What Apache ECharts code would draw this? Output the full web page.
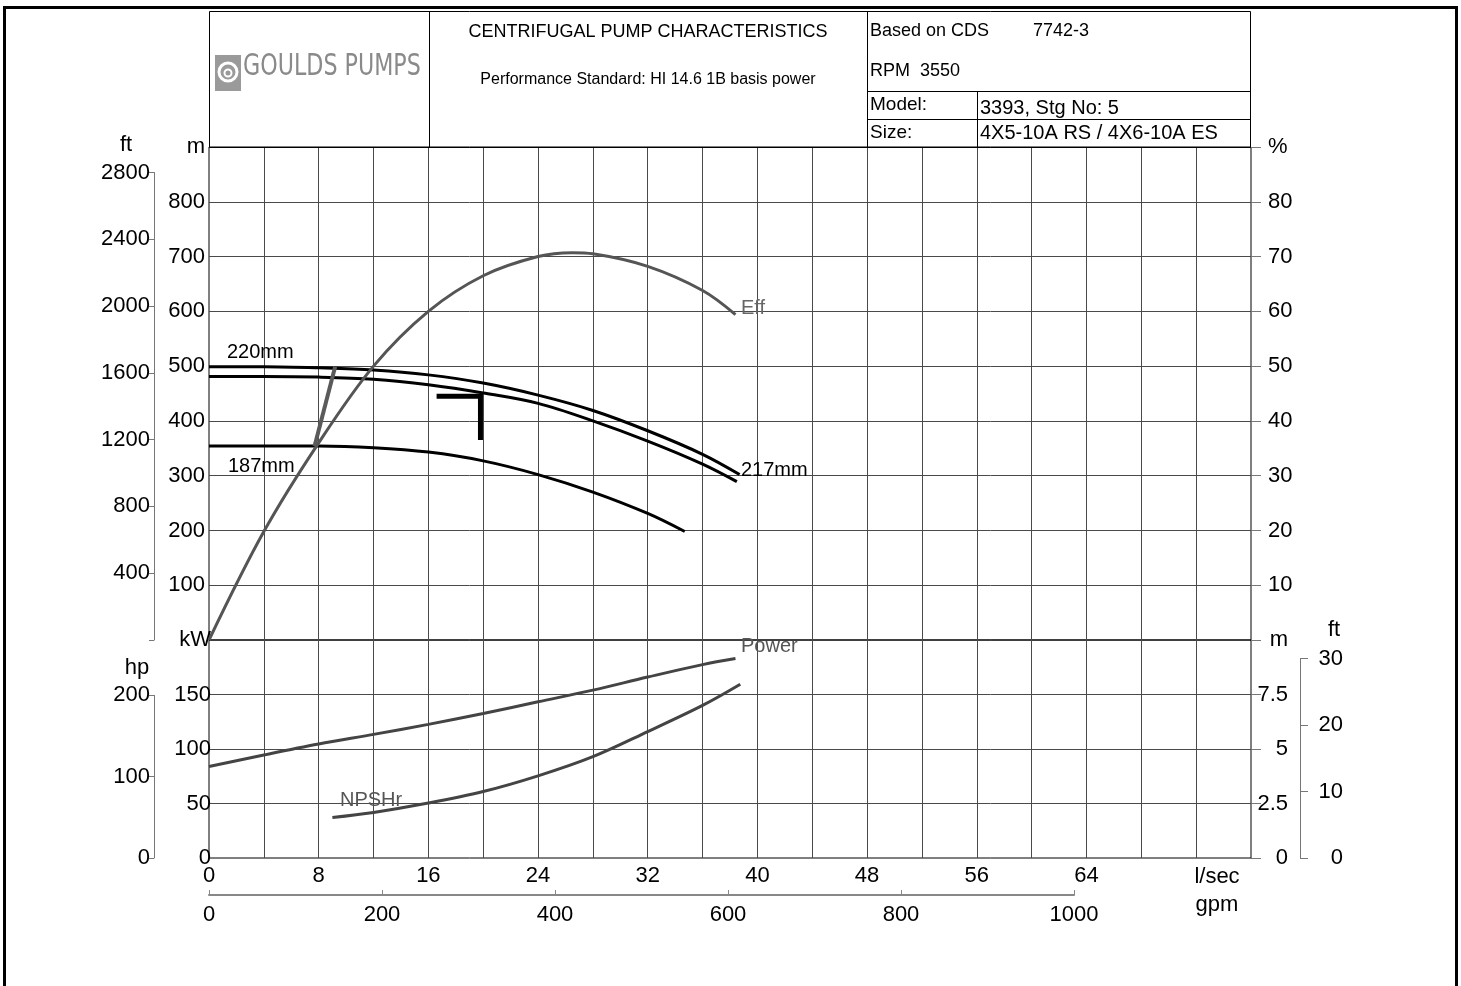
<!DOCTYPE html>
<html>
<head>
<meta charset="utf-8">
<title>Centrifugal pump characteristics</title>
<script src="https://cdn.jsdelivr.net/npm/echarts@6/dist/echarts.min.js"></script>
<style>
  html, body { margin: 0; padding: 0; background: #fff; }
  #chart { width: 1461px; height: 986px; }
</style>
</head>
<body>
<div id="chart"></div>
<script>
// flow in l/sec, head in m
var head220 = [[0, 499], [4, 499], [8, 497], [12, 493], [16, 484], [20, 469], [24, 447], [28, 419], [32, 382], [36, 339], [38.7, 302]];
var head217 = [[0, 481], [4, 481], [8, 480], [12, 476], [16, 466], [20, 451], [24, 432], [28, 400], [32, 363], [36, 321], [38.5, 289]];
var head187 = [[0, 354], [4, 354], [8, 354], [12, 351], [16, 343], [20, 327], [24, 302], [28, 270], [32, 231], [34.7, 198]];
// efficiency %
var effPct = [[0, 0], [4, 19.8], [8, 36], [12, 50], [16, 60], [20, 66.5], [24, 70], [26.5, 70.7], [28, 70.5], [32, 68.2], [36, 63.8], [38.4, 59.4]];
// power kW
var powerKw = [[0, 84], [4, 94.5], [8, 104.5], [12, 113.4], [16, 122.6], [20, 132.6], [24, 143.3], [28, 154], [32, 166], [36, 177.4], [38.4, 183]];
// NPSHr m
var npshM = [[9, 1.86], [12, 2.09], [16, 2.52], [20, 3.05], [24, 3.77], [28, 4.65], [32, 5.8], [36, 7.0], [38.75, 7.97]];
// min flow line and duty point marker
var minFlow = [[7.7, 353.5], [9.2, 499]];
var dutyMark = [[16.6, 445], [19.8, 445], [19.8, 365]];

var FONT = 'Liberation Sans, Arial, sans-serif';
var M_TO_FT = 3.28084;
var LS_TO_GPM = 15.8503;
var KW_TO_HP = 1.34102;

var chart = echarts.init(document.getElementById('chart'));

var gridCol = '#4a4a4a';
var axisGray = '#777';

function lbl(extra) {
  var o = { color: '#000', fontFamily: FONT, fontSize: 22 };
  for (var k in extra) o[k] = extra[k];
  return o;
}
function txt(x, y, s, size, opt) {
  opt = opt || {};
  return {
    type: 'text', x: x, y: y, z: 100,
    style: {
      text: s, fill: opt.color || '#000', font: (size || 20) + 'px ' + FONT,
      textAlign: opt.align || 'left', textVerticalAlign: 'middle'
    }
  };
}
function ln(x1, y1, x2, y2, w, c) {
  return { type: 'line', z: 100, shape: { x1: x1, y1: y1, x2: x2, y2: y2 }, style: { stroke: c || '#000', lineWidth: w || 1 } };
}

// head / eff grid: 0..900 m over 147..640
var plotTop = 147, splitY = 640, plotBottom = 858, plotLeft = 209, plotW = 1042;
var ftTop = splitY - (2800 / M_TO_FT) / 900 * (splitY - plotTop);
var hpTop = plotBottom - (200 / KW_TO_HP) / 200 * (plotBottom - splitY);
var npftTop = plotBottom - (30 / M_TO_FT) / 10 * (plotBottom - splitY);
var qMax = 76;
var gpmW = 1000 / (qMax * LS_TO_GPM) * plotW;

var option = {
  animation: false,
  backgroundColor: '#fff',
  grid: [
    { left: plotLeft, top: plotTop, width: plotW, height: splitY - plotTop, show: true, borderColor: '#000', borderWidth: 1 },
    { left: plotLeft, top: splitY, width: plotW, height: plotBottom - splitY, show: true, borderColor: '#000', borderWidth: 1 },
    { left: 154, top: ftTop, width: 1, height: splitY - ftTop },
    { left: 154, top: hpTop, width: 1, height: plotBottom - hpTop },
    { left: 1300, top: npftTop, width: 5, height: plotBottom - npftTop },
    { left: plotLeft, top: 890, width: gpmW, height: 5 }
  ],
  xAxis: [
    { gridIndex: 0, type: 'value', min: 0, max: qMax, interval: 4,
      axisLine: { show: false }, axisTick: { show: false }, axisLabel: { show: false },
      splitLine: { show: true, showMinLine: false, showMaxLine: false, lineStyle: { color: gridCol, width: 1 } } },
    { gridIndex: 1, type: 'value', min: 0, max: qMax, interval: 4,
      axisLine: { show: false }, axisTick: { show: false },
      axisLabel: lbl({ margin: 7, formatter: function (v) { return (v % 8 === 0 && v <= 64) ? String(v) : ''; } }),
      splitLine: { show: true, showMinLine: false, showMaxLine: false, lineStyle: { color: gridCol, width: 1 } } },
    { gridIndex: 2, type: 'value', min: 0, max: 1, show: false },
    { gridIndex: 3, type: 'value', min: 0, max: 1, show: false },
    { gridIndex: 4, type: 'value', min: 0, max: 1, show: false },
    { gridIndex: 5, type: 'value', position: 'bottom', min: 0, max: 1000, interval: 200,
      axisLine: { show: true, lineStyle: { color: '#888', width: 2 } },
      axisTick: { show: true, inside: true, length: 5, lineStyle: { color: '#888' } },
      axisLabel: lbl({ margin: 9, formatter: function (v) { return String(v); } }), splitLine: { show: false } }
  ],
  yAxis: [
    { gridIndex: 0, type: 'value', position: 'left', min: 0, max: 900, interval: 100,
      axisLine: { show: false }, axisTick: { show: false },
      axisLabel: lbl({ margin: 4, formatter: function (v) { return v === 0 ? '' : (v === 900 ? 'm' : String(v)); } }),
      splitLine: { show: true, showMinLine: false, showMaxLine: false, lineStyle: { color: gridCol, width: 1 } } },
    { gridIndex: 0, type: 'value', position: 'right', min: 0, max: 90, interval: 10,
      axisLine: { show: false }, axisTick: { show: true, length: 10, lineStyle: { color: axisGray } },
      axisLabel: lbl({ margin: 17, formatter: function (v) { return v === 0 ? '' : (v === 90 ? '%' : String(v)); } }),
      splitLine: { show: false } },
    { gridIndex: 1, type: 'value', position: 'left', min: 0, max: 200, interval: 50,
      axisLine: { show: false }, axisTick: { show: false },
      axisLabel: lbl({ margin: -2, formatter: function (v) { return v === 200 ? 'kW' : String(v); } }),
      splitLine: { show: true, showMinLine: false, showMaxLine: false, lineStyle: { color: gridCol, width: 1 } } },
    { gridIndex: 1, type: 'value', position: 'right', min: 0, max: 10, interval: 2.5,
      axisLine: { show: false }, axisTick: { show: true, length: 10, lineStyle: { color: axisGray } },
      axisLabel: lbl({ margin: 37, align: 'right', formatter: function (v) { return v === 10 ? 'm' : String(v); } }),
      splitLine: { show: false } },
    { gridIndex: 2, type: 'value', position: 'left', min: 0, max: 2800, interval: 400,
      axisLine: { show: true, lineStyle: { color: axisGray } },
      axisTick: { show: true, length: 5, lineStyle: { color: axisGray } },
      axisLabel: lbl({ margin: 4, formatter: function (v) { return v === 0 ? '' : String(v); } }),
      splitLine: { show: false } },
    { gridIndex: 3, type: 'value', position: 'left', min: 0, max: 200, interval: 100,
      axisLine: { show: true, lineStyle: { color: axisGray } },
      axisTick: { show: true, length: 5, lineStyle: { color: axisGray } },
      axisLabel: lbl({ margin: 4 }), splitLine: { show: false } },
    { gridIndex: 4, type: 'value', position: 'right', min: 0, max: 30, interval: 10,
      axisLine: { show: true, lineStyle: { color: axisGray } },
      axisTick: { show: true, length: 8, lineStyle: { color: axisGray } },
      axisLabel: lbl({ margin: 38, align: 'right' }), splitLine: { show: false } },
    { gridIndex: 5, type: 'value', min: 0, max: 1, show: false }
  ],
  series: [
    { name: '220mm', type: 'line', xAxisIndex: 0, yAxisIndex: 0, data: head220, smooth: 0.35, showSymbol: false,
      lineStyle: { color: '#000', width: 3 } },
    { name: '217mm', type: 'line', xAxisIndex: 0, yAxisIndex: 0, data: head217, smooth: 0.35, showSymbol: false,
      lineStyle: { color: '#000', width: 3 } },
    { name: '187mm', type: 'line', xAxisIndex: 0, yAxisIndex: 0, data: head187, smooth: 0.35, showSymbol: false,
      lineStyle: { color: '#000', width: 3 } },
    { name: 'Eff', type: 'line', xAxisIndex: 0, yAxisIndex: 1, data: effPct, smooth: 0.35, showSymbol: false,
      lineStyle: { color: '#555', width: 3 } },
    { name: 'Min flow', type: 'line', xAxisIndex: 0, yAxisIndex: 0, data: minFlow, showSymbol: false,
      lineStyle: { color: '#5a5a5a', width: 4 } },
    { name: 'Duty', type: 'line', xAxisIndex: 0, yAxisIndex: 0, data: dutyMark, showSymbol: false,
      lineStyle: { color: '#000', width: 5, join: 'miter', cap: 'butt' } },
    { name: 'Power', type: 'line', xAxisIndex: 1, yAxisIndex: 2, data: powerKw, smooth: 0.35, showSymbol: false,
      lineStyle: { color: '#444', width: 3 } },
    { name: 'NPSHr', type: 'line', xAxisIndex: 1, yAxisIndex: 3, data: npshM, smooth: 0.35, showSymbol: false,
      lineStyle: { color: '#444', width: 3 } }
  ],
  graphic: [
    // outer frame
    { type: 'rect', z: 100, shape: { x: 4.5, y: 7.5, width: 1452, height: 1000 }, style: { fill: null, stroke: '#000', lineWidth: 3 } },
    // header box
    { type: 'rect', z: 100, shape: { x: 209.5, y: 11.5, width: 1041, height: 136 }, style: { fill: null, stroke: '#000', lineWidth: 1 } },
    ln(429.5, 11, 429.5, 147), ln(867.5, 11, 867.5, 147),
    ln(867, 91.5, 1251, 91.5), ln(867, 119.5, 1251, 119.5), ln(977.5, 91, 977.5, 147),
    // logo
    { type: 'rect', z: 100, shape: { x: 215, y: 55, width: 26, height: 36 }, style: { fill: '#9a9a9a' } },
    { type: 'circle', z: 101, shape: { cx: 228, cy: 72, r: 9 }, style: { fill: null, stroke: '#fff', lineWidth: 3 } },
    { type: 'circle', z: 101, shape: { cx: 228, cy: 73, r: 3.5 }, style: { fill: null, stroke: '#fff', lineWidth: 2 } },
    { type: 'text', z: 100, x: 243, y: 67, scaleX: 0.74,
      style: { text: 'GOULDS PUMPS', fill: '#8a8a8a', font: '30px DejaVu Sans, sans-serif', textVerticalAlign: 'middle' } },
    txt(648, 32, 'CENTRIFUGAL PUMP CHARACTERISTICS', 18, { align: 'center' }),
    txt(648, 80, 'Performance Standard: HI 14.6 1B basis power', 16, { align: 'center' }),
    txt(870, 31, 'Based on CDS', 18), txt(1033, 31, '7742-3', 18),
    txt(870, 71, 'RPM  3550', 18),
    txt(870, 105, 'Model:', 19), txt(980, 108, '3393, Stg No: 5', 20),
    txt(870, 133, 'Size:', 19), txt(980, 133, '4X5-10A RS / 4X6-10A ES', 20),
    // axis titles
    txt(126, 145, 'ft', 22, { align: 'center' }),
    txt(137, 668, 'hp', 22, { align: 'center' }),
    txt(1334, 630, 'ft', 22, { align: 'center' }),
    txt(1217, 877, 'l/sec', 22, { align: 'center' }),
    txt(1217, 905, 'gpm', 22, { align: 'center' }),
    // curve labels
    txt(227, 352, '220mm', 20),
    txt(228, 466, '187mm', 20),
    txt(741, 470, '217mm', 20),
    txt(741, 308, 'Eff', 20, { color: '#666' }),
    txt(741, 646, 'Power', 20, { color: '#555' }),
    txt(340, 800, 'NPSHr', 20, { color: '#555' })
  ]
};

chart.setOption(option);
</script>
</body>
</html>
